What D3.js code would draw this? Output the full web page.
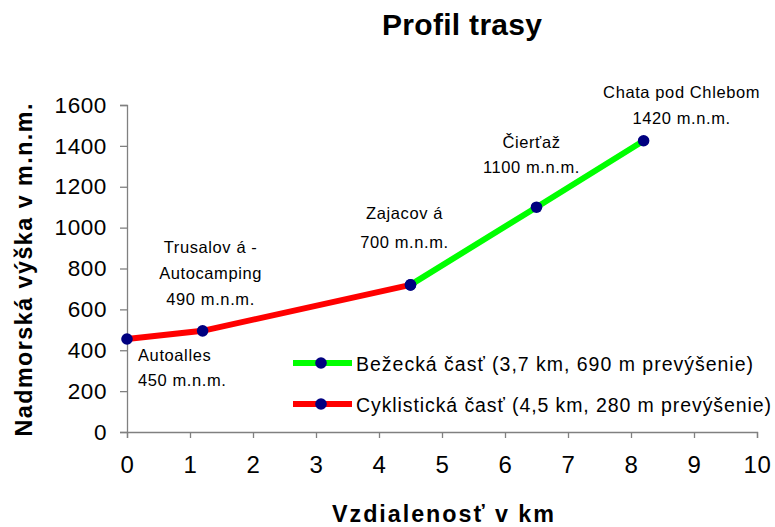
<!DOCTYPE html>
<html><head><meta charset="utf-8">
<script src="https://cdn.jsdelivr.net/npm/d3@7"></script>
<style>body{margin:0;background:#fff;} text{font-family:"Liberation Sans",Arial,sans-serif;}</style>
</head><body>
<svg id="c" width="775" height="527"></svg>
<script>
const cyclingKm = [0, 1.2, 4.5];
const cyclingAlt = [455, 495, 720];
const runningKm = [4.5, 6.5, 8.2];
const runningAlt = [720, 1100, 1425];
const xTicks = [0,1,2,3,4,5,6,7,8,9,10];
const yTicks = [0,200,400,600,800,1000,1200,1400,1600];
const pointLabels = [
  {km:0, alt:455, lines:["Autoalles","450 m.n.m."], anchor:"start", dx:11, dy:[22,47]},
  {km:1.2, alt:495, lines:["Trusalov á -","Autocamping","490 m.n.m."], anchor:"middle", dx:8, dy:[-78,-52,-26]},
  {km:4.5, alt:720, lines:["Zajacov á","700 m.n.m."], anchor:"middle", dx:-6, dy:[-66,-37]},
  {km:6.5, alt:1100, lines:["Čierťaž","1100 m.n.m."], anchor:"middle", dx:-5, dy:[-59,-34]},
  {km:8.2, alt:1425, lines:["Chata pod Chlebom","1420 m.n.m."], anchor:"middle", dx:38, dy:[-43,-17]}
];
const legendItems = [
  {name:"Bežecká časť (3,7 km, 690 m prevýšenie)", color:"#00ff00", len:397},
  {name:"Cyklistická časť (4,5 km, 280 m prevýšenie)", color:"#ff0000", len:415}
];

const svg = d3.select("#c");
const x = d3.scaleLinear().domain([0,10]).range([127,757]);
const y = d3.scaleLinear().domain([0,1600]).range([432,105]);
const axisColor = "#808080";

// title
svg.append("text").attr("x",462).attr("y",35).attr("text-anchor","middle")
  .attr("font-size",30).attr("font-weight","bold")
  .attr("textLength",160).attr("lengthAdjust","spacing").text("Profil trasy");

// axes
const ya = svg.append("g").attr("transform","translate(127,0)")
  .call(d3.axisLeft(y).tickValues(yTicks).tickSize(7).tickPadding(13).tickFormat(d3.format("d")));
const xa = svg.append("g").attr("transform","translate(0,432)")
  .call(d3.axisBottom(x).tickValues(xTicks).tickSize(6).tickPadding(18).tickFormat(d3.format("d")));
[ya,xa].forEach(g=>{
  g.select(".domain").attr("stroke",axisColor).attr("stroke-width",1.3);
  g.selectAll(".tick line").attr("stroke",axisColor).attr("stroke-width",1.3);
  g.selectAll(".tick text").attr("fill","#000")
    .attr("font-family","'Liberation Sans',Arial,sans-serif");
});
ya.selectAll(".tick text").attr("font-size",22.5).attr("letter-spacing",0.6);
xa.selectAll(".tick text").attr("font-size",24).attr("letter-spacing",0.6);

// axis titles
svg.append("text").attr("transform","translate(31.5,270) rotate(-90)").attr("text-anchor","middle")
  .attr("font-size",23.3).attr("font-weight","bold")
  .attr("textLength",333).attr("lengthAdjust","spacing").text("Nadmorská výška v m.n.m.");
svg.append("text").attr("x",443).attr("y",522).attr("text-anchor","middle")
  .attr("font-size",23.3).attr("font-weight","bold")
  .attr("textLength",222).attr("lengthAdjust","spacing").text("Vzdialenosť v km");

const line = d3.line().x(d=>x(d[0])).y(d=>y(d[1]));
const cyc = cyclingKm.map((k,i)=>[k,cyclingAlt[i]]);
const run = runningKm.map((k,i)=>[k,runningAlt[i]]);

svg.append("path").datum(cyc).attr("d",line).attr("fill","none")
  .attr("stroke","#ff0000").attr("stroke-width",6);
svg.append("path").datum(run).attr("d",line).attr("fill","none")
  .attr("stroke","#00ff00").attr("stroke-width",6);

[...cyc, ...run].forEach(d=>{
  svg.append("circle").attr("cx",x(d[0])).attr("cy",y(d[1])).attr("r",5.8).attr("fill","#000080");
});

// point labels
pointLabels.forEach(p=>{
  p.lines.forEach((t,i)=>{
    svg.append("text").attr("x",x(p.km)+p.dx).attr("y",y(p.alt)+p.dy[i])
      .attr("text-anchor",p.anchor).attr("font-size",16.5).attr("letter-spacing",0.6)
      .attr("fill","#000").text(t);
  });
});

// legend
legendItems.forEach((it,i)=>{
  const ly = 363 + i*41;
  svg.append("line").attr("x1",293).attr("x2",352).attr("y1",ly).attr("y2",ly)
    .attr("stroke",it.color).attr("stroke-width",6);
  svg.append("circle").attr("cx",321).attr("cy",ly).attr("r",5.8).attr("fill","#000080");
  svg.append("text").attr("x",356).attr("y",ly+8).attr("font-size",19.5)
    .attr("textLength",it.len).attr("lengthAdjust","spacing").attr("fill","#000").text(it.name);
});
</script>
</body></html>
